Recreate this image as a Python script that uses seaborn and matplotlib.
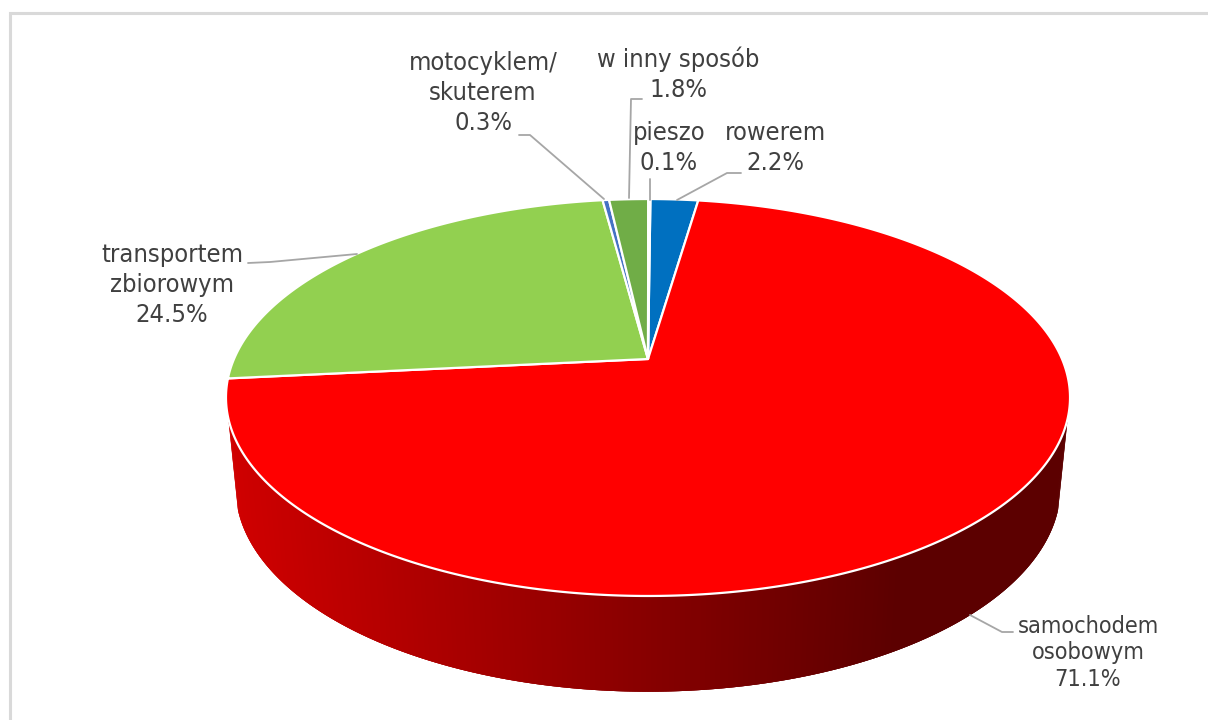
import numpy as np
import matplotlib
matplotlib.use("Agg")
import matplotlib.pyplot as plt
from matplotlib.colors import LinearSegmentedColormap
from matplotlib.patches import Polygon
import seaborn as sns

# Commuting mode shares, clockwise from twelve o'clock
categories = ["rowerem", "samochodem osobowym", "transportem zbiorowym",
              "motocyklem/ skuterem", "w inny sposób", "pieszo"]
shares = [2.2, 71.1, 24.5, 0.3, 1.8, 0.1]
slice_colors = ["#0070c0", "#ff0000", "#92d050", "#4472c4", "#70ad47", "#9dc3e6"]
wall_colors = ["#d00000", "#5c0000"]

# Text blocks: label, centre x, centre y, font size, line spacing
label_blocks = [
    ("motocyklem/\nskuterem\n0.3%", 483, 93, 18.3, 1.33),
    ("w inny sposób\n1.8%", 678, 74, 18.3, 1.33),
    ("pieszo\n0.1%", 669, 148, 18.3, 1.33),
    ("rowerem\n2.2%", 775, 148, 18.3, 1.33),
    ("transportem\nzbiorowym\n24.5%", 172, 285, 18.3, 1.33),
    ("samochodem\nosobowym\n71.1%", 1088, 653, 16.8, 1.22),
]
leader_paths = [
    [(604, 199), (530, 135), (519, 135)],
    [(629, 198), (631, 99), (642, 99)],
    [(650, 200), (650, 179)],
    [(677, 200), (727, 173), (741, 173)],
    [(357, 254), (270, 262), (248, 263)],
    [(970, 615), (1002, 632), (1013, 632)],
]

sns.set_theme(style="white", rc={"font.family": ["DejaVu Sans"]})
palette = sns.color_palette(slice_colors)
wall_cmap = LinearSegmentedColormap.from_list(
    "wall", sns.color_palette(wall_colors), N=256)

# Perspective tilt of the disc: top face and bottom rim
CX = 648
TOP = dict(a=414.0, b=191.0, y0=359.0, k=0.194)
BASE = dict(a=405.0, b=196.6, y0=449.0, k=0.19)
FIRST_SLICE_ANGLE = 0.4
WALL_SIDE = 0.29


def project(phi, face):
    """Map clockwise angle from north onto the tilted disc, in pixels."""
    u, v = np.sin(phi), -np.cos(phi)
    w = 1 - face["k"] * v
    return CX + face["a"] * u / w, face["y0"] + face["b"] * v / w


fig = plt.figure(figsize=(12.08, 7.2), dpi=100, facecolor="white")
ax = fig.add_axes([0, 0, 1, 1])
ax.set_xlim(0, 1208)
ax.set_ylim(720, 0)
ax.axis("off")

# Chart frame, open at the right and bottom image edges
ax.plot([9.5, 9.5, 1208], [720, 13, 13], color="#d9d9d9", lw=2.2,
        solid_joinstyle="miter", zorder=1)

edges = np.radians(np.concatenate([[0], np.cumsum(shares)]) * 3.6 + FIRST_SLICE_ANGLE)

# Side wall of the large slice: overlapping strips painted from right to left
vis_start = max(edges[1], np.pi - np.arccos(WALL_SIDE))
vis_end = min(edges[2], np.pi + np.arccos(WALL_SIDE))
steps = np.linspace(vis_start, vis_end, 500)
for p0, p1 in zip(steps[:-3], steps[3:]):
    xt0, yt0 = project(p0, TOP)
    xt1, yt1 = project(p1, TOP)
    xb0, yb0 = project(p0, BASE)
    xb1, yb1 = project(p1, BASE)
    shade = np.clip((0.5 * (xt0 + xb0) - 230) / 670, 0, 1)
    ax.add_patch(Polygon([(xt0, yt0), (xt1, yt1), (xb1, yb1), (xb0, yb0)],
                         closed=True, facecolor=wall_cmap(shade),
                         edgecolor="none", zorder=2))

# Top faces of the slices
for start, stop, color in zip(edges[:-1], edges[1:], palette):
    arc = np.linspace(start, stop, max(int((stop - start) * 200), 4))
    xs, ys = project(arc, TOP)
    pts = np.column_stack([np.r_[CX, xs], np.r_[TOP["y0"], ys]])
    ax.add_patch(Polygon(pts, closed=True, facecolor=color, edgecolor="white",
                         lw=1.6, joinstyle="round", zorder=3))

# Leader lines and labels
for path in leader_paths:
    px, py = zip(*path)
    ax.plot(px, py, color="#a6a6a6", lw=1.3, zorder=4)
for text, x, y, size, spacing in label_blocks:
    ax.text(x, y, text, ha="center", va="center", fontsize=size,
            fontstretch="condensed", color="#404040", linespacing=spacing,
            zorder=5)

fig.savefig("out.png", dpi=100, facecolor="white")
